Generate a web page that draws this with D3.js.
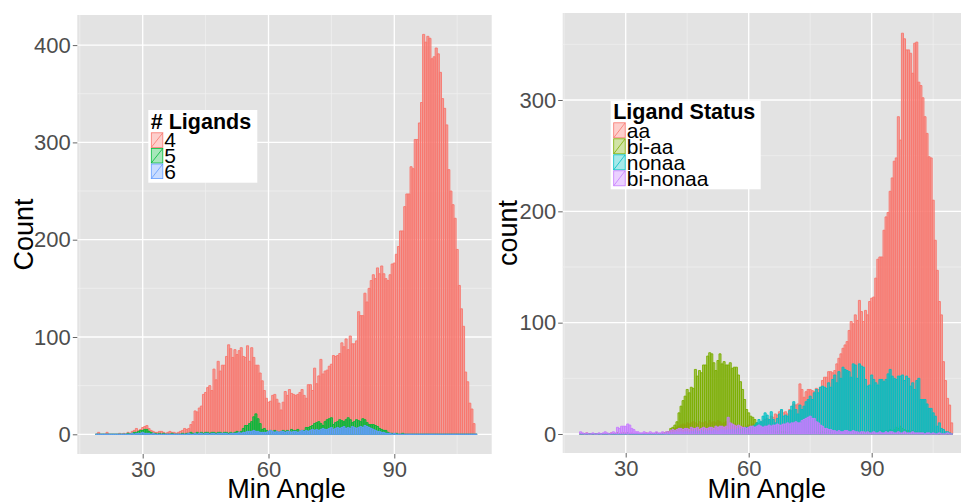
<!DOCTYPE html>
<html lang="en">
  <head>
    <meta charset="UTF-8" />
    <title>Min Angle histograms</title>
    <script src="https://d3js.org/d3.v7.min.js"></script>
    <style>
      body {
        margin: 0;
        padding: 0;
        background: #fff;
        overflow: hidden;
      }
      svg {
        display: block;
        font-family: "Liberation Sans", Arial, sans-serif;
      }
    </style>
  </head>
  <body>
    <svg width="961" height="502"></svg>
    <script>
      // bins of 0.5 degree, centres 19.0 ... 109.5
      const binStart = 19;
      const binWidth = 0.5;

      // left panel: # Ligands
      const ligands4 = [
        0, 2, 0, 0, 0, 2, 0, 0, 0, 0,
        0, 1, 0, 1, 0, 2, 1, 3, 4, 6,
        4, 5, 7, 8, 9, 6, 4, 3, 2, 2,
        3, 3, 2, 1, 2, 3, 2, 2, 1, 2,
        3, 4, 6, 5, 6, 10, 13, 24, 23, 27,
        29, 41, 43, 48, 50, 45, 67, 56, 75, 65,
        71, 71, 80, 92, 88, 79, 87, 82, 86, 89,
        80, 79, 91, 75, 89, 79, 71, 71, 63, 55,
        45, 37, 33, 34, 40, 41, 36, 32, 25, 33,
        44, 40, 46, 42, 41, 40, 41, 43, 46, 40,
        37, 51, 51, 45, 68, 52, 60, 77, 62, 65,
        66, 70, 72, 81, 80, 81, 83, 94, 90, 98,
        87, 101, 93, 93, 96, 126, 122, 122, 145, 136,
        150, 158, 164, 160, 171, 165, 173, 165, 160, 158,
        164, 175, 176, 185, 193, 209, 209, 234, 247, 247,
        275, 273, 303, 303, 320, 341, 411, 403, 409, 407,
        386, 388, 397, 391, 372, 345, 335, 318, 272, 250,
        236, 222, 190, 153, 129, 111, 64, 54, 32, 26,
        11, 0,
      ];
      const ligands5 = [
        0, 0, 0, 0, 0, 0, 0, 0, 0, 0,
        0, 0, 0, 0, 0, 1, 0, 1, 2, 2,
        3, 4, 4, 5, 5, 3, 2, 1, 1, 0,
        1, 0, 1, 0, 0, 0, 1, 0, 0, 0,
        0, 1, 0, 1, 1, 2, 1, 1, 2, 1,
        2, 1, 2, 2, 1, 2, 2, 1, 2, 2,
        1, 2, 2, 1, 2, 1, 2, 3, 2, 3,
        6, 9, 9, 11, 13, 18, 21, 16, 11, 5,
        6, 4, 3, 4, 3, 4, 3, 2, 3, 4,
        3, 4, 3, 5, 4, 4, 5, 3, 4, 4,
        7, 7, 8, 9, 11, 12, 13, 11, 9, 13,
        15, 16, 17, 10, 12, 13, 15, 14, 13, 15,
        17, 15, 12, 13, 15, 14, 13, 16, 15, 12,
        10, 10, 10, 9, 8, 6, 5, 4, 4, 2,
        1, 1, 0, 1, 0, 0, 1, 0, 0, 0,
        0, 0, 0, 0, 0, 0, 0, 0, 0, 0,
        0, 0, 0, 0, 0, 0, 0, 0, 0, 0,
        0, 0, 0, 0, 0, 0, 0, 0, 0, 0,
        0, 0,
      ];
      const ligands6 = [
        0, 0, 0, 0, 0, 0, 0, 0, 0, 0,
        0, 0, 0, 0, 0, 0, 0, 1, 0, 1,
        1, 1, 2, 1, 1, 1, 0, 1, 0, 0,
        0, 0, 0, 0, 0, 0, 0, 0, 0, 0,
        0, 0, 0, 0, 1, 0, 0, 1, 0, 1,
        1, 0, 1, 1, 0, 1, 1, 0, 1, 1,
        1, 1, 1, 0, 1, 1, 1, 1, 2, 1,
        2, 2, 3, 3, 3, 4, 3, 3, 2, 2,
        2, 2, 3, 4, 3, 2, 3, 2, 3, 3,
        2, 3, 3, 2, 3, 3, 2, 3, 4, 3,
        4, 3, 4, 5, 4, 5, 4, 5, 6, 5,
        5, 6, 7, 5, 6, 7, 6, 7, 8, 6,
        7, 6, 8, 7, 6, 7, 8, 7, 9, 8,
        7, 6, 5, 4, 3, 3, 2, 2, 1, 1,
        1, 0, 1, 0, 0, 0, 0, 0, 0, 0,
        0, 0, 0, 0, 0, 0, 0, 0, 0, 0,
        0, 0, 0, 0, 0, 0, 0, 0, 0, 0,
        0, 0, 0, 0, 0, 0, 0, 0, 0, 0,
        0, 0,
      ];

      // right panel: Ligand Status
      const statusAa = [
        0, 0, 0, 1, 0, 0, 0, 0, 0, 0,
        0, 0, 0, 0, 0, 1, 0, 0, 1, 0,
        1, 0, 1, 1, 0, 1, 0, 0, 0, 0,
        0, 0, 1, 0, 0, 0, 0, 1, 0, 0,
        1, 1, 2, 2, 3, 4, 5, 6, 7, 8,
        9, 8, 10, 9, 10, 11, 10, 9, 11, 10,
        10, 11, 9, 12, 10, 11, 10, 12, 11, 9,
        10, 11, 9, 10, 8, 9, 8, 7, 6, 7,
        6, 7, 8, 7, 9, 8, 10, 9, 11, 12,
        13, 14, 13, 16, 15, 18, 17, 20, 21, 19,
        20, 18, 22, 21, 27, 26, 27, 45, 40, 33,
        38, 40, 40, 39, 38, 41, 40, 42, 48, 51,
        51, 56, 56, 55, 57, 63, 68, 72, 77, 80,
        83, 93, 101, 99, 107, 102, 120, 110, 101, 111,
        107, 119, 122, 123, 140, 157, 159, 159, 183, 195,
        199, 218, 230, 245, 248, 285, 264, 360, 355, 345,
        345, 342, 324, 351, 352, 316, 313, 302, 285, 270,
        249, 248, 210, 174, 147, 119, 107, 65, 48, 32,
        26, 10,
      ];
      const statusBiAa = [
        0, 0, 0, 0, 0, 0, 0, 0, 0, 0,
        0, 0, 0, 0, 0, 0, 0, 0, 1, 0,
        0, 1, 0, 1, 0, 0, 0, 0, 0, 0,
        0, 0, 0, 0, 0, 0, 0, 1, 0, 0,
        0, 1, 1, 2, 5, 6, 8, 11, 19, 25,
        30, 34, 40, 37, 42, 41, 58, 52, 57, 55,
        62, 62, 70, 73, 72, 64, 57, 66, 72, 63,
        65, 62, 62, 64, 59, 60, 60, 53, 47, 40,
        31, 22, 19, 16, 15, 13, 10, 6, 5, 4,
        4, 3, 3, 2, 3, 2, 2, 3, 2, 2,
        2, 1, 2, 2, 1, 2, 1, 2, 1, 1,
        1, 2, 1, 1, 2, 1, 1, 1, 2, 1,
        1, 2, 1, 1, 1, 2, 1, 1, 2, 1,
        1, 1, 2, 1, 1, 2, 1, 1, 2, 1,
        2, 2, 1, 2, 1, 2, 2, 3, 2, 3,
        3, 4, 3, 4, 6, 5, 7, 5, 4, 3,
        3, 2, 3, 2, 2, 1, 2, 1, 1, 1,
        1, 0, 1, 0, 0, 0, 0, 0, 0, 0,
        0, 0,
      ];
      const statusNonaa = [
        0, 0, 0, 0, 0, 0, 0, 0, 0, 0,
        0, 0, 0, 0, 0, 0, 0, 0, 0, 0,
        0, 0, 0, 1, 0, 0, 0, 0, 0, 0,
        0, 0, 0, 0, 0, 0, 0, 0, 0, 0,
        0, 0, 1, 0, 1, 1, 1, 2, 1, 2,
        1, 2, 2, 1, 2, 2, 3, 2, 2, 3,
        2, 3, 2, 3, 2, 3, 3, 2, 3, 4,
        3, 3, 4, 3, 4, 3, 4, 5, 4, 5,
        5, 6, 4, 6, 7, 8, 10, 13, 11, 16,
        19, 17, 13, 20, 13, 10, 14, 18, 22, 16,
        17, 16, 21, 25, 29, 22, 18, 26, 22, 25,
        29, 31, 34, 31, 37, 40, 37, 42, 43, 42,
        41, 46, 42, 49, 53, 46, 56, 50, 60, 58,
        57, 56, 51, 63, 62, 50, 63, 61, 60, 49,
        43, 44, 53, 49, 46, 44, 49, 49, 47, 49,
        54, 58, 52, 50, 49, 52, 52, 53, 48, 52,
        50, 43, 46, 40, 48, 50, 31, 31, 31, 27,
        23, 23, 19, 16, 7, 10, 5, 4, 2, 2,
        1, 0,
      ];
      const statusBiNonaa = [
        2, 1, 0, 1, 0, 0, 1, 0, 0, 1,
        0, 1, 2, 1, 0, 1, 2, 1, 6, 5,
        7, 7, 7, 9, 8, 5, 4, 2, 2, 1,
        1, 2, 1, 1, 2, 1, 1, 2, 1, 1,
        2, 1, 2, 2, 3, 4, 3, 4, 5, 5,
        4, 5, 5, 4, 6, 5, 5, 6, 4, 5,
        6, 5, 5, 6, 6, 5, 7, 6, 7, 7,
        6, 7, 15, 10, 9, 8, 7, 8, 7, 6,
        6, 5, 6, 7, 7, 6, 7, 8, 7, 6,
        7, 7, 8, 7, 8, 8, 9, 8, 8, 9,
        9, 10, 9, 10, 10, 11, 10, 10, 12, 13,
        14, 15, 16, 14, 14, 11, 10, 8, 7, 5,
        5, 4, 4, 3, 3, 2, 3, 2, 2, 3,
        3, 2, 2, 3, 2, 2, 1, 2, 2, 1,
        2, 1, 1, 2, 1, 1, 2, 1, 1, 2,
        1, 2, 2, 1, 1, 2, 1, 1, 2, 1,
        1, 1, 2, 1, 1, 1, 1, 1, 0, 1,
        1, 0, 1, 0, 0, 1, 0, 0, 0, 1,
        0, 0,
      ];

      const xTicks = [30, 60, 90];
      const xMinor = [15, 45, 75, 105];

      const svg = d3.select("svg");
      const font = '"Liberation Sans", Arial, sans-serif';

      const panels = [
        {
          left: 77.3, right: 491.7, top: 15, bottom: 454,
          xRange: [142.7, 394.3],
          yDomain: [0, 400], yRange: [434.3, 45.1],
          yTicks: [0, 100, 200, 300, 400],
          yMinor: [50, 150, 250, 350],
          yTitle: "Count", yTitleX: 33,
          series: [
            { name: "4", color: "#F8766D", values: ligands4 },
            { name: "5", color: "#00BA38", values: ligands5 },
            { name: "6", color: "#619CFF", values: ligands6 },
          ],
          legend: {
            title: "# Ligands", x: 148.3, y: 110, w: 109, h: 72.7,
            titleY: 129.3, keyY: 132.3, keyH: 15.6,
          },
        },
        {
          left: 562.7, right: 966.8, top: 13, bottom: 453,
          xRange: [625.7, 871.7],
          yDomain: [0, 300], yRange: [434, 100],
          yTicks: [0, 100, 200, 300],
          yMinor: [50, 150, 250, 350],
          yTitle: "count", yTitleX: 517,
          series: [
            { name: "aa", color: "#F8766D", values: statusAa },
            { name: "bi-aa", color: "#7CAE00", values: statusBiAa },
            { name: "nonaa", color: "#00BFC4", values: statusNonaa },
            { name: "bi-nonaa", color: "#C77CFF", values: statusBiNonaa },
          ],
          legend: {
            title: "Ligand Status", x: 610.7, y: 101, w: 150, h: 88.3,
            titleY: 119.3, keyY: 122.3, keyH: 16,
          },
        },
      ];

      panels.forEach(drawPanel);

      function drawPanel(p) {
        const x = d3.scaleLinear().domain([30, 90]).range(p.xRange);
        const y = d3.scaleLinear().domain(p.yDomain).range(p.yRange);
        const g = svg.append("g");

        g.append("rect")
          .attr("x", p.left)
          .attr("y", p.top)
          .attr("width", p.right - p.left)
          .attr("height", p.bottom - p.top)
          .attr("fill", "#E3E3E3");

        // minor grid
        g.append("g")
          .selectAll("line")
          .data(xMinor)
          .join("line")
          .attr("x1", (d) => x(d))
          .attr("x2", (d) => x(d))
          .attr("y1", p.top)
          .attr("y2", p.bottom)
          .attr("stroke", "#F0F0F0")
          .attr("stroke-width", 0.7);
        g.append("g")
          .selectAll("line")
          .data(p.yMinor.filter((d) => y(d) > p.top))
          .join("line")
          .attr("x1", p.left)
          .attr("x2", p.right)
          .attr("y1", (d) => y(d))
          .attr("y2", (d) => y(d))
          .attr("stroke", "#F0F0F0")
          .attr("stroke-width", 0.7);

        // major grid
        g.append("g")
          .selectAll("line")
          .data(xTicks)
          .join("line")
          .attr("x1", (d) => x(d))
          .attr("x2", (d) => x(d))
          .attr("y1", p.top)
          .attr("y2", p.bottom)
          .attr("stroke", "#fff")
          .attr("stroke-width", 1.3);
        g.append("g")
          .selectAll("line")
          .data(p.yTicks)
          .join("line")
          .attr("x1", p.left)
          .attr("x2", p.right)
          .attr("y1", (d) => y(d))
          .attr("y2", (d) => y(d))
          .attr("stroke", "#fff")
          .attr("stroke-width", 1.3);

        // histogram bars, drawn on top of each other (position identity)
        p.series.forEach((s) => {
          g.append("g")
            .selectAll("path")
            .data(s.values)
            .join("path")
            .attr("d", (v, i) => {
              const c = binStart + i * binWidth;
              const xa = x(c - binWidth / 2);
              const xb = x(c + binWidth / 2);
              const y0 = y(0);
              const y1 = y(v);
              return `M${xa},${y0}V${y1}H${xb}V${y0}Z`;
            })
            .attr("fill", s.color)
            .attr("fill-opacity", 0.62)
            .attr("stroke", s.color)
            .attr("stroke-width", 0.9);
        });

        // axes
        const xAxis = g
          .append("g")
          .attr("transform", `translate(0,${p.bottom})`)
          .call(d3.axisBottom(x).tickValues(xTicks).tickSize(4.5).tickPadding(3));
        const yAxis = g
          .append("g")
          .attr("transform", `translate(${p.left},0)`)
          .call(d3.axisLeft(y).tickValues(p.yTicks).tickSize(4.5).tickPadding(2));
        [xAxis, yAxis].forEach((a) => {
          a.select(".domain").remove();
          a.selectAll(".tick line").attr("stroke", "#666");
          a.selectAll(".tick text")
            .attr("fill", "#4D4D4D")
            .style("font-family", font)
            .style("font-size", "22px");
        });

        // axis titles
        g.append("text")
          .attr("x", (p.left + p.right) / 2 + 2)
          .attr("y", 498)
          .attr("text-anchor", "middle")
          .style("font-size", "27px")
          .text("Min Angle");
        g.append("text")
          .attr(
            "transform",
            `translate(${p.yTitleX},${(p.top + p.bottom) / 2}) rotate(-90)`
          )
          .attr("text-anchor", "middle")
          .style("font-size", "27px")
          .text(p.yTitle);

        // legend
        const L = p.legend;
        const lg = svg.append("g");
        lg.append("rect")
          .attr("x", L.x)
          .attr("y", L.y)
          .attr("width", L.w)
          .attr("height", L.h)
          .attr("fill", "#fff");
        lg.append("text")
          .attr("x", L.x + 2.5)
          .attr("y", L.titleY)
          .style("font-size", "21.5px")
          .style("font-weight", "bold")
          .text(L.title);
        const keys = lg
          .selectAll("g.key")
          .data(p.series)
          .join("g")
          .attr("class", "key")
          .attr(
            "transform",
            (d, i) => `translate(${L.x + 2.5},${L.keyY + i * L.keyH})`
          );
        keys
          .append("rect")
          .attr("x", 0.5)
          .attr("y", 0.5)
          .attr("width", 11.5)
          .attr("height", L.keyH - 1)
          .attr("fill", (d) => d.color)
          .attr("fill-opacity", 0.35)
          .attr("stroke", (d) => d.color)
          .attr("stroke-width", 0.8);
        keys
          .append("line")
          .attr("x1", 0.5)
          .attr("y1", L.keyH - 0.5)
          .attr("x2", 12)
          .attr("y2", 0.5)
          .attr("stroke", (d) => d.color)
          .attr("stroke-width", 0.8);
        keys
          .append("text")
          .attr("x", 13.5)
          .attr("y", L.keyH - 0.5)
          .style("font-size", "21px")
          .text((d) => d.name);
      }
    </script>
  </body>
</html>
